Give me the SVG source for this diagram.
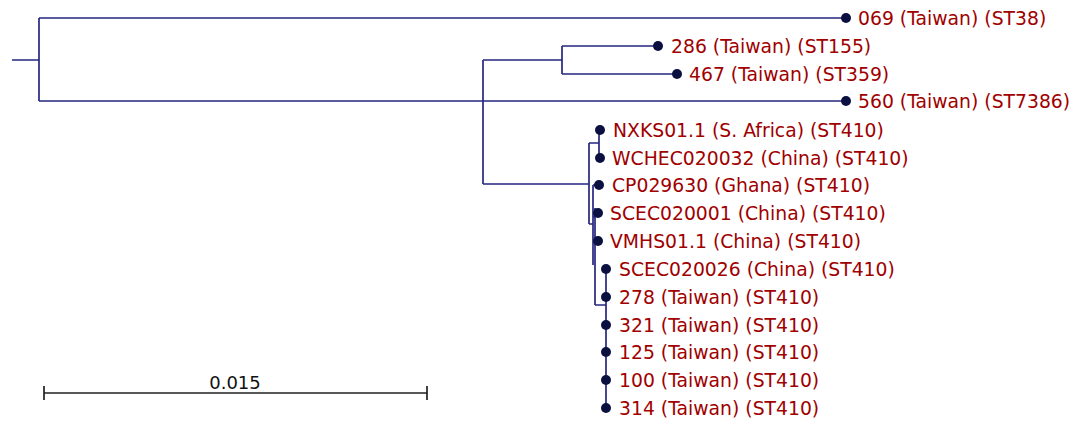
<svg xmlns="http://www.w3.org/2000/svg" width="1083" height="422" viewBox="0 0 1083 422">
<style>
.br{stroke:#262680;stroke-width:1.7;fill:none}
.tip{fill:#0a1040}
.lb{font-family:"DejaVu Sans",sans-serif;font-size:18.8px;fill:#a00000}
.sc{stroke:#222;stroke-width:1.7;fill:none}
.st{font-family:"DejaVu Sans",sans-serif;font-size:18px;fill:#111}
</style>
<rect width="1083" height="422" fill="#fff"/>
<g id="connectors">
<path class="br" d="M12,60H39M39,18V101M39,18H846M39,101H846"/>
<path class="br" d="M483,60V184M483,60H562M562,46V74M562,46H658M562,74H677"/>
<path class="br" d="M483,184H589M589,143V224M589,143H599M599,130V158"/>
<path class="br" d="M589,224H593M593,185V265M593,185H599"/>
<path class="br" d="M593,217H595M595,208V305M595,213H598M595,241H598M595,305H606M606,269V408"/>
</g>
<g id="n069"><circle class="tip" cx="846" cy="18" r="5"/><text class="lb" x="858" y="24.5">069 (Taiwan) (ST38)</text></g>
<g id="n286"><circle class="tip" cx="658" cy="46" r="5"/><text class="lb" x="671" y="52.5">286 (Taiwan) (ST155)</text></g>
<g id="n467"><circle class="tip" cx="677" cy="74" r="5"/><text class="lb" x="689" y="80.5">467 (Taiwan) (ST359)</text></g>
<g id="n560"><circle class="tip" cx="846" cy="101" r="5"/><text class="lb" x="858" y="107.5">560 (Taiwan) (ST7386)</text></g>
<g id="nNXKS"><circle class="tip" cx="600" cy="130" r="5"/><text class="lb" x="613" y="136.5">NXKS01.1 (S. Africa) (ST410)</text></g>
<g id="nWCHEC"><circle class="tip" cx="600" cy="158" r="5"/><text class="lb" x="612" y="164.5">WCHEC020032 (China) (ST410)</text></g>
<g id="nCP"><circle class="tip" cx="599" cy="185" r="5"/><text class="lb" x="612" y="191.5">CP029630 (Ghana) (ST410)</text></g>
<g id="nSCEC1"><circle class="tip" cx="598" cy="213" r="5"/><text class="lb" x="610" y="219.5">SCEC020001 (China) (ST410)</text></g>
<g id="nVMHS"><circle class="tip" cx="598" cy="241" r="5"/><text class="lb" x="610" y="247.5">VMHS01.1 (China) (ST410)</text></g>
<g id="nSCEC26"><circle class="tip" cx="606" cy="269" r="5"/><text class="lb" x="619" y="275.5">SCEC020026 (China) (ST410)</text></g>
<g id="n278"><circle class="tip" cx="606" cy="297" r="5"/><text class="lb" x="619" y="303.5">278 (Taiwan) (ST410)</text></g>
<g id="n321"><circle class="tip" cx="606" cy="325" r="5"/><text class="lb" x="619" y="331.5">321 (Taiwan) (ST410)</text></g>
<g id="n125"><circle class="tip" cx="606" cy="352" r="5"/><text class="lb" x="619" y="358.5">125 (Taiwan) (ST410)</text></g>
<g id="n100"><circle class="tip" cx="606" cy="380" r="5"/><text class="lb" x="619" y="386.5">100 (Taiwan) (ST410)</text></g>
<g id="n314"><circle class="tip" cx="606" cy="408" r="5"/><text class="lb" x="619" y="414.5">314 (Taiwan) (ST410)</text></g>
<g id="scale">
<path class="sc" d="M44,393H427M44,386V400M427,386V400"/>
<text class="st" x="235" y="389" text-anchor="middle">0.015</text>
</g>
</svg>
